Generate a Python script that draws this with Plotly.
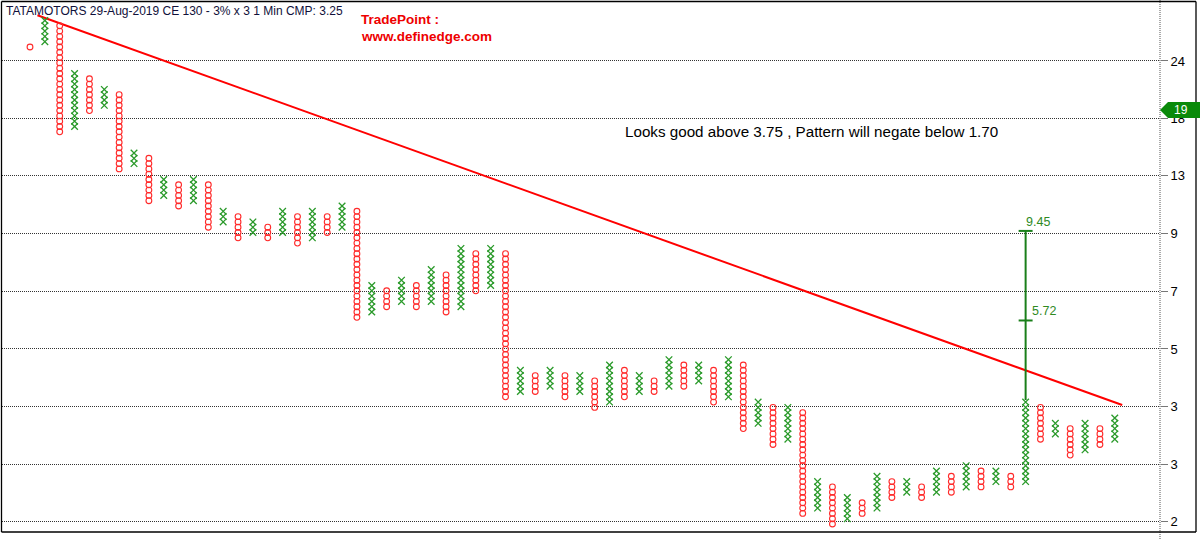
import plotly.graph_objects as go

# ---------------- data ----------------
col_type = ["O", "X", "O", "X", "O", "X", "O", "X", "O", "X",
            "O", "X", "O", "X", "O", "X", "O", "X", "O", "X",
            "O", "X", "O", "X", "O", "X", "O", "X", "O", "X",
            "O", "X", "O", "X", "O", "X", "O", "X", "O", "X",
            "O", "X", "O", "X", "O", "X", "O", "X", "O", "X",
            "O", "X", "O", "X", "O", "X", "O", "X", "O", "X",
            "O", "X", "O", "X", "O", "X", "O", "X", "O", "X",
            "O", "X", "O", "X"]
col_low = [90, 91, 74, 75, 78, 79, 67, 68, 61, 62,
           60, 61, 56, 57, 54, 55, 54, 55, 53, 54,
           55, 56, 39, 40, 41, 42, 41, 42, 40, 41,
           44, 45, 24, 25, 25, 26, 24, 25, 22, 23,
           24, 25, 25, 26, 26, 27, 23, 24, 18, 19,
           15, 16, 2, 3, 0, 1, 2, 3, 5, 6,
           5, 6, 6, 7, 7, 8, 7, 8, 16, 17,
           13, 14, 15, 16]
col_high = [90, 95, 94, 85, 84, 82, 81, 70, 69, 65,
            64, 65, 64, 59, 58, 57, 56, 59, 58, 59,
            58, 60, 59, 45, 44, 46, 45, 48, 47, 52,
            51, 52, 51, 29, 28, 29, 28, 28, 27, 30,
            29, 28, 27, 31, 30, 30, 29, 31, 30, 23,
            22, 22, 21, 8, 7, 5, 4, 9, 8, 8,
            7, 10, 9, 11, 10, 10, 9, 23, 22, 19,
            18, 19, 18, 20]

# price axis (gridline levels expressed in box units) and their labels
grid_boxes = [0.43, 11.32, 22.13, 33.02, 43.96, 54.85, 65.72, 76.47, 87.36]
grid_labels = ["2", "3", "3", "5", "7", "9", "13", "18", "24"]

# bearish resistance line (column, box)
trend_cols = [0.5, 73.5]
trend_boxes = [96.0, 22.45]

# vertical count target
target_col = 67
target_boxes = [55.3, 38.4]
target_labels = ["9.45", "5.72"]
target_base_box = 23.4

cmp_marker_box = 78.1
cmp_marker_text = "19"

title_text = "TATAMOTORS 29-Aug-2019 CE 130 - 3% x 3 1 Min CMP: 3.25"
brand_lines = ["TradePoint :", "www.definedge.com"]
note_text = "Looks good above 3.75 , Pattern will negate below 1.70"

# ---------------- styling / layout helpers ----------------
W, H = 1200, 539
ML, MR, MT, MB = 2, 40, 2, 7
PW, PH = W - ML - MR, H - MT - MB
GREEN = "#2a9a2a"
RED = "#ff2a2a"
FONT = "Arial, Liberation Sans, sans-serif"


def px(xp):
    return (xp - ML) / PW


def py(yp):
    return (H - MB - yp) / PH


xs_x, ys_x, xs_o, ys_o = [], [], [], []
for i, (t, lo, hi) in enumerate(zip(col_type, col_low, col_high)):
    for b in range(lo, hi + 1):
        if t == "X":
            xs_x.append(i)
            ys_x.append(b)
        else:
            xs_o.append(i)
            ys_o.append(b)

fig = go.Figure()
fig.add_trace(go.Scatter(
    x=trend_cols, y=trend_boxes, mode="lines",
    line=dict(color="#ff0000", width=2), hoverinfo="skip", showlegend=False))
fig.add_trace(go.Scatter(
    x=xs_x, y=ys_x, mode="markers",
    marker=dict(symbol="x-thin-open", size=6.6, color=GREEN,
                line=dict(color=GREEN, width=1.3)),
    hoverinfo="skip", showlegend=False))
fig.add_trace(go.Scatter(
    x=xs_o, y=ys_o, mode="markers",
    marker=dict(symbol="circle-open", size=5.8, color=RED,
                line=dict(color=RED, width=1.1)),
    hoverinfo="skip", showlegend=False))

shapes = []
# target vertical line and ticks
shapes.append(dict(type="line", xref="x", yref="y", x0=target_col, x1=target_col,
                   y0=target_base_box, y1=target_boxes[0],
                   line=dict(color="#1a7f1a", width=2), layer="above"))
for tb in target_boxes:
    shapes.append(dict(type="line", xref="x", yref="y",
                       x0=target_col - 0.47, x1=target_col + 0.47, y0=tb, y1=tb,
                       line=dict(color="#1a7f1a", width=2), layer="above"))

# dotted axis line on the right
shapes.append(dict(type="line", xref="paper", yref="paper", x0=px(1160), x1=px(1160),
                   y0=py(0), y1=py(H), line=dict(color="#555555", width=1, dash="1px,1px"),
                   layer="above"))
# outer frame
frame = dict(color="#000000", width=1.3)
shapes.append(dict(type="line", xref="paper", yref="paper", x0=px(1.5), x1=px(1.5),
                   y0=py(1.5), y1=py(532), line=frame, layer="above"))
shapes.append(dict(type="line", xref="paper", yref="paper", x0=px(1.5), x1=px(1196),
                   y0=py(1.5), y1=py(1.5), line=frame, layer="above"))
shapes.append(dict(type="line", xref="paper", yref="paper", x0=px(1196), x1=px(1196),
                   y0=py(1.5), y1=py(532), line=frame, layer="above"))
shapes.append(dict(type="line", xref="paper", yref="paper", x0=px(1.5), x1=px(1196),
                   y0=py(532), y1=py(532), line=frame, layer="above"))

# CMP marker (green arrow box on the axis)
y_mid = cmp_marker_box
half = 1.5  # in box units (~8px)
path = "M {a},{m} L {b},{t} L {c},{t} L {c},{bt} L {b},{bt} Z".format(
    a=px(1160), b=px(1168), c=px(1200), m=y_mid, t=y_mid + half, bt=y_mid - half)
shapes.append(dict(type="path", xref="paper", yref="y", path=path,
                   fillcolor="#0a8a0a", line=dict(width=0), layer="above"))

annotations = [
    dict(text=title_text, xref="paper", yref="paper", x=px(4), y=py(11),
         xanchor="left", yanchor="middle", showarrow=False,
         font=dict(family=FONT, size=12, color="#10103a")),
    dict(text="<b>" + brand_lines[0] + "</b>", xref="paper", yref="paper", x=px(359), y=py(20),
         xanchor="left", yanchor="middle", showarrow=False,
         font=dict(family=FONT, size=13.5, color="#ee0000")),
    dict(text="<b>" + brand_lines[1] + "</b>", xref="paper", yref="paper", x=px(359), y=py(37),
         xanchor="left", yanchor="middle", showarrow=False,
         font=dict(family=FONT, size=13.5, color="#ee0000")),
    dict(text=note_text, xref="paper", yref="paper", x=px(623), y=py(132),
         xanchor="left", yanchor="middle", showarrow=False,
         font=dict(family=FONT, size=15.2, color="#000000")),
    dict(text=cmp_marker_text, xref="paper", yref="y", x=px(1181), y=cmp_marker_box,
         xanchor="center", yanchor="middle", showarrow=False,
         font=dict(family=FONT, size=12, color="#ffffff")),
]
for tb, tl, dx in zip(target_boxes, target_labels, [0.0, 0.4]):
    annotations.append(dict(text=tl, xref="x", yref="y", x=target_col - 0.1 + dx, y=tb,
                            xanchor="left", yanchor="bottom", showarrow=False,
                            font=dict(family=FONT, size=12.5, color="#2f8a1f")))

fig.update_layout(
    width=W, height=H, autosize=False,
    margin=dict(l=ML, r=MR, t=MT, b=MB, pad=0),
    paper_bgcolor="#ffffff", plot_bgcolor="#ffffff",
    showlegend=False,
    xaxis=dict(range=[(ML - 30) / 14.86, (1160 - 30) / 14.86], showgrid=False,
               zeroline=False, showticklabels=False, ticks="", showline=False,
               fixedrange=True),
    yaxis=dict(range=[(524 - (H - MB)) / 5.3, (524 - MT) / 5.3], side="right",
               tickvals=grid_boxes, ticktext=grid_labels, ticks="outside",
               ticklen=7, tickcolor="#777777", tickwidth=1,
               showgrid=True, gridcolor="#333333", gridwidth=1, griddash="1px,1px",
               zeroline=False, showline=False,
               tickfont=dict(family=FONT, size=13, color="#000000"),
               fixedrange=True),
    shapes=shapes,
    annotations=annotations,
)

fig.write_html("out.html")
